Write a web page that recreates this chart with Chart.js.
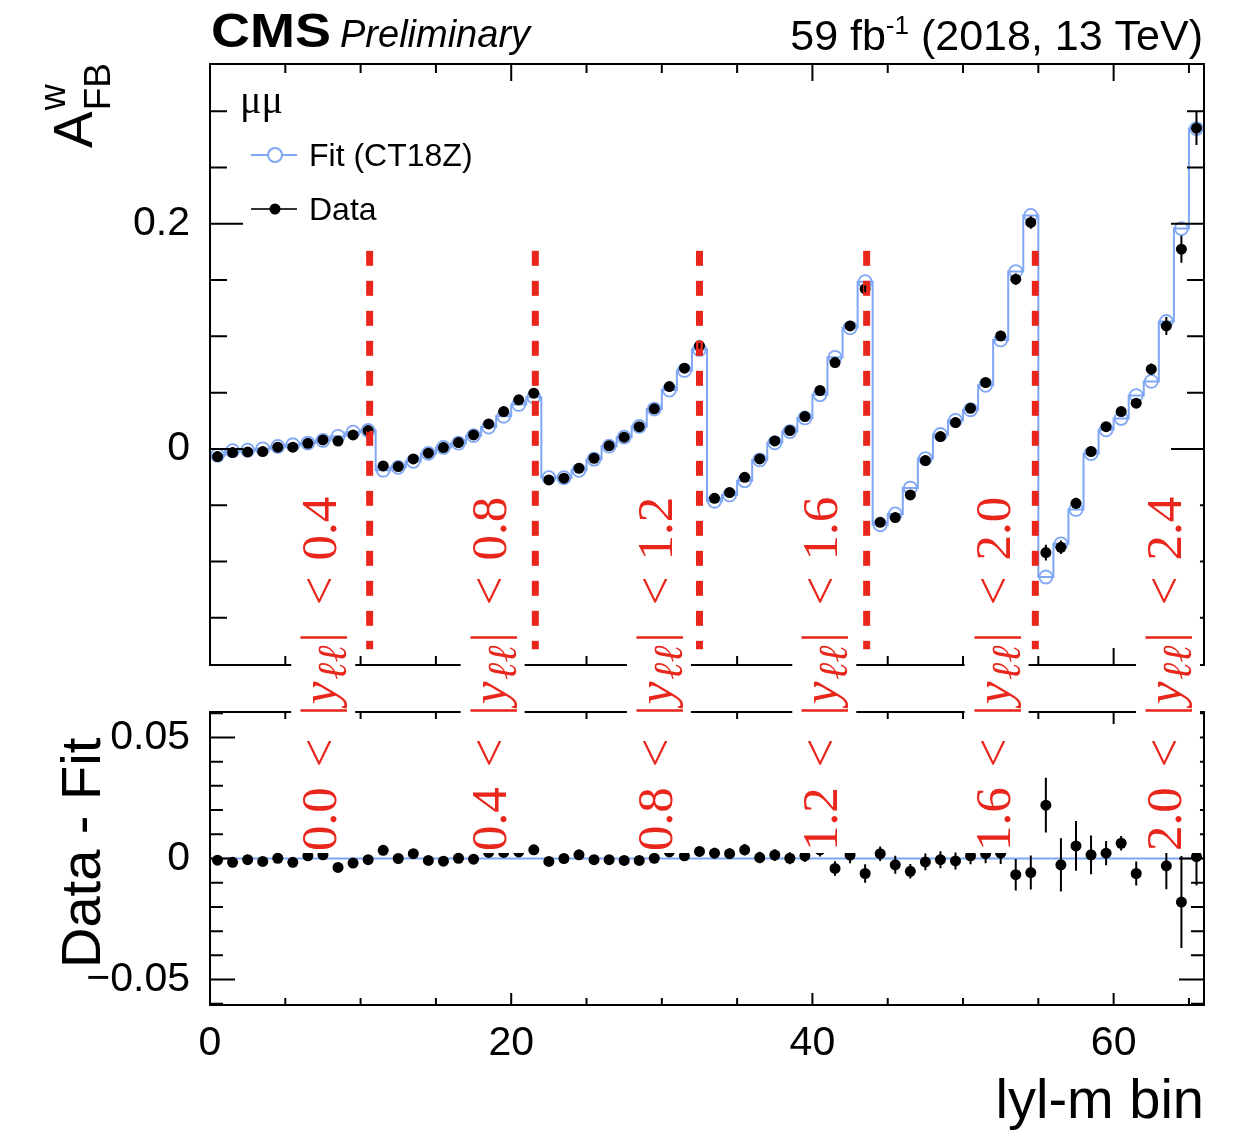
<!DOCTYPE html>
<html>
<head>
<meta charset="utf-8">
<title>A_FB^w in |y|-m bins</title>
<script src="https://cdn.jsdelivr.net/npm/chart.js@4.4.1/dist/chart.umd.min.js"></script>
<style>
  html, body { margin: 0; padding: 0; background: #fff; }
  #wrap { position: relative; width: 1255px; height: 1132px; }
  #wrap canvas { position: absolute; left: 0; top: 0; }
</style>
</head>
<body>
<div id="wrap">
  <canvas id="mainChart" width="1255" height="1132"></canvas>
  <canvas id="ratioChart" width="1255" height="1132"></canvas>
</div>
<script>
// Weighted forward-backward asymmetry per |y|-mass bin, dimuon channel, 2018

// |y_ll| slice edges, 11 mass bins per slice
const rapidityEdges = ['0.0', '0.4', '0.8', '1.2', '1.6', '2.0', '2.4'];

const dataValues = [
  -0.0068, -0.0033, -0.0027, -0.0024, 0.0015, 0.0015, 0.0050, 0.0080, 0.0070, 0.0124, 0.0163,
  -0.0151, -0.0157, -0.0089, -0.0038, 0.0012, 0.0056, 0.0124, 0.0222, 0.0332, 0.0436, 0.0495,
  -0.0276, -0.0260, -0.0172, -0.0083, 0.0027, 0.0104, 0.0198, 0.0356, 0.0554, 0.0717, 0.0916,
  -0.0439, -0.0388, -0.0252, -0.0089, 0.0071, 0.0163, 0.0287, 0.0519, 0.0767, 0.1093, 0.1422,
  -0.0652, -0.0610, -0.0409, -0.0104, 0.0110, 0.0234, 0.0361, 0.0590, 0.1004, 0.1508, 0.2012,
  -0.0921, -0.0874, -0.0483, -0.0024, 0.0198, 0.0332, 0.0406, 0.0708, 0.1093, 0.1775, 0.2850
];

const dataErrors = [
  0.0015, 0.0015, 0.0015, 0.0015, 0.0015, 0.0015, 0.0015, 0.0015, 0.0015, 0.0015, 0.0015,
  0.0020, 0.0020, 0.0020, 0.0020, 0.0020, 0.0020, 0.0020, 0.0020, 0.0020, 0.0020, 0.0020,
  0.0025, 0.0025, 0.0025, 0.0025, 0.0025, 0.0025, 0.0025, 0.0025, 0.0025, 0.0025, 0.0025,
  0.0030, 0.0030, 0.0030, 0.0030, 0.0030, 0.0030, 0.0030, 0.0030, 0.0030, 0.0030, 0.0030,
  0.0040, 0.0040, 0.0040, 0.0040, 0.0040, 0.0040, 0.0040, 0.0040, 0.0045, 0.0050, 0.0055,
  0.0070, 0.0060, 0.0050, 0.0040, 0.0030, 0.0030, 0.0040, 0.0050, 0.0080, 0.0120, 0.0150
];

const fitValues = [
  -0.0057, -0.0016, -0.0011, 0.0001, 0.0022, 0.0037, 0.0052, 0.0075, 0.0112, 0.0149, 0.0164,
  -0.0189, -0.0164, -0.0110, -0.0040, 0.0013, 0.0051, 0.0118, 0.0194, 0.0290, 0.0395, 0.0460,
  -0.0255, -0.0256, -0.0190, -0.0091, 0.0024, 0.0104, 0.0200, 0.0354, 0.0523, 0.0697, 0.0884,
  -0.0465, -0.0409, -0.0282, -0.0098, 0.0054, 0.0154, 0.0275, 0.0482, 0.0814, 0.1076, 0.1486,
  -0.0674, -0.0578, -0.0348, -0.0086, 0.0128, 0.0254, 0.0348, 0.0565, 0.0968, 0.1576, 0.2075,
  -0.1138, -0.0843, -0.0538, -0.0042, 0.0170, 0.0271, 0.0474, 0.0600, 0.1132, 0.1958, 0.2846
];

const residualValues = [
  -0.0007, -0.0016, -0.0005, -0.0012, 0.0001, -0.0016, 0.0011, 0.0015, -0.0037, -0.0019, -0.0005,
  0.0034, 0.0000, 0.0020, -0.0008, -0.0011, 0.0001, -0.0003, 0.0025, 0.0025, 0.0027, 0.0036,
  -0.0012, 0.0000, 0.0015, -0.0005, -0.0005, -0.0008, -0.0008, 0.0001, 0.0027, 0.0011, 0.0029,
  0.0022, 0.0020, 0.0036, 0.0004, 0.0014, 0.0001, 0.0011, 0.0036, -0.0041, 0.0014, -0.0062,
  0.0020, -0.0026, -0.0053, -0.0014, -0.0005, -0.0010, 0.0011, 0.0020, 0.0022, -0.0067, -0.0058,
  0.0220, -0.0026, 0.0052, 0.0015, 0.0022, 0.0063, -0.0062, 0.0105, -0.0030, -0.0180, 0.0008
];

const residualErrors = [
  0.0010, 0.0010, 0.0010, 0.0010, 0.0010, 0.0010, 0.0010, 0.0010, 0.0010, 0.0010, 0.0010,
  0.0015, 0.0015, 0.0015, 0.0015, 0.0015, 0.0015, 0.0015, 0.0015, 0.0015, 0.0015, 0.0020,
  0.0018, 0.0018, 0.0018, 0.0018, 0.0018, 0.0018, 0.0018, 0.0018, 0.0018, 0.0018, 0.0020,
  0.0022, 0.0022, 0.0024, 0.0024, 0.0024, 0.0025, 0.0025, 0.0028, 0.0030, 0.0034, 0.0038,
  0.0030, 0.0037, 0.0030, 0.0035, 0.0035, 0.0035, 0.0035, 0.0040, 0.0045, 0.0065, 0.0070,
  0.0113, 0.0110, 0.0103, 0.0080, 0.0050, 0.0030, 0.0050, 0.0060, 0.0097, 0.0190, 0.0120
];

const xTicks = [0, 20, 40, 60];
const mainYTicks = [0, 0.2];
const ratioYTicks = [-0.05, 0, 0.05];

// slice separators (bin units) and their vertical extent
const sliceLines = [10.6, 21.6, 32.5, 43.6, 54.8];
const sliceLineRange = [0.176, -0.178];
// baseline of each rotated slice caption (bin units)
const sliceLabelBins = [8.38, 19.63, 30.67, 41.65, 53.09, 64.47];

const SANS = "'Liberation Sans', Arial, Helvetica, sans-serif";
const SERIF = "'Liberation Serif', 'Times New Roman', 'DejaVu Serif', serif";
const FIT_BLUE = '#7fa7f4';
const RED = '#e8261c';

const nBins = dataValues.length;
const binCenters = dataValues.map((_, i) => i + 0.5);

function points(xs, ys) {
  return xs.map((x, i) => ({ x, y: ys[i] }));
}

// fit as a histogram outline: level of bin i from its low edge to the next
const fitSteps = fitValues.map((v, i) => ({ x: i, y: v }));
fitSteps.push({ x: nBins, y: fitValues[nBins - 1] });

// walk minor/major tick positions between min and max
function forEachTick(min, max, step, majorStep, fn) {
  const k0 = Math.ceil(min / step - 1e-9);
  const k1 = Math.floor(max / step + 1e-9);
  for (let k = k0; k <= k1; k++) {
    const v = k * step;
    const r = v / majorStep;
    fn(v, Math.abs(r - Math.round(r)) < 1e-6);
  }
}

// ROOT-style frame with inward ticks on all four sides
function drawFrame(chart, t) {
  const { ctx, chartArea: a } = chart;
  const x = chart.scales.x;
  const y = chart.scales.y;
  ctx.save();
  ctx.strokeStyle = '#000';
  ctx.lineWidth = 2;
  ctx.beginPath();
  forEachTick(x.min, x.max, 5, 20, (v, major) => {
    const px = x.getPixelForValue(v);
    const len = major ? t.xMajor : t.xMinor;
    ctx.moveTo(px, a.bottom); ctx.lineTo(px, a.bottom - len);
    ctx.moveTo(px, a.top); ctx.lineTo(px, a.top + len);
  });
  forEachTick(y.min, y.max, t.yStep, t.yMajorStep, (v, major) => {
    const py = y.getPixelForValue(v);
    const len = major ? t.yMajor : t.yMinor;
    ctx.moveTo(a.left, py); ctx.lineTo(a.left + len, py);
    ctx.moveTo(a.right, py); ctx.lineTo(a.right - len, py);
  });
  ctx.stroke();
  ctx.strokeRect(a.left, a.top, a.right - a.left, a.bottom - a.top);
  ctx.restore();
}

function drawErrorBars(chart, values, errors) {
  const { ctx, chartArea: a } = chart;
  const x = chart.scales.x;
  const y = chart.scales.y;
  ctx.save();
  ctx.beginPath();
  ctx.rect(a.left, a.top, a.right - a.left, a.bottom - a.top);
  ctx.clip();
  ctx.strokeStyle = '#000';
  ctx.lineWidth = 2;
  ctx.beginPath();
  values.forEach((v, i) => {
    const px = x.getPixelForValue(binCenters[i]);
    ctx.moveTo(px, y.getPixelForValue(v - errors[i]));
    ctx.lineTo(px, y.getPixelForValue(v + errors[i]));
  });
  ctx.stroke();
  ctx.restore();
}

// header, legend and y title of the upper pad
function drawMainDecor(ctx) {
  ctx.save();
  ctx.fillStyle = '#000';
  ctx.textBaseline = 'alphabetic';

  // CMS Preliminary
  ctx.font = `bold 48px ${SANS}`;
  const cmsW = ctx.measureText('CMS').width;
  ctx.save();
  ctx.translate(211, 47);
  ctx.scale(120 / cmsW, 1);
  ctx.fillText('CMS', 0, 0);
  ctx.restore();
  ctx.font = `italic 38px ${SANS}`;
  ctx.fillText('Preliminary', 340, 47);

  // luminosity label, right aligned with the frame
  const big = `43px ${SANS}`;
  const small = `26px ${SANS}`;
  ctx.font = big;
  const w1 = ctx.measureText('59 fb').width;
  const w3 = ctx.measureText(' (2018, 13 TeV)').width;
  ctx.font = small;
  const w2 = ctx.measureText('-1').width;
  const lx = 1203 - (w1 + w2 + w3);
  ctx.font = big;
  ctx.fillText('59 fb', lx, 50);
  ctx.font = small;
  ctx.fillText('-1', lx + w1, 34);
  ctx.font = big;
  ctx.fillText(' (2018, 13 TeV)', lx + w1 + w2, 50);

  // legend
  ctx.font = `40px ${SERIF}`;
  ctx.fillText('\u03bc\u03bc', 240, 113);
  ctx.font = `32px ${SANS}`;
  ctx.fillText('Fit (CT18Z)', 309, 166);
  ctx.fillText('Data', 309, 220);

  ctx.lineWidth = 2;
  ctx.strokeStyle = FIT_BLUE;
  ctx.beginPath();
  ctx.moveTo(251, 155); ctx.lineTo(297, 155);
  ctx.stroke();
  ctx.fillStyle = '#fff';
  ctx.beginPath();
  ctx.arc(275, 155, 7, 0, Math.PI * 2);
  ctx.fill();
  ctx.stroke();

  ctx.strokeStyle = '#333';
  ctx.beginPath();
  ctx.moveTo(251, 209); ctx.lineTo(297, 209);
  ctx.stroke();
  ctx.fillStyle = '#000';
  ctx.beginPath();
  ctx.arc(275, 209, 5.5, 0, Math.PI * 2);
  ctx.fill();

  // y title A_FB^w, rotated
  ctx.save();
  ctx.translate(92, 148);
  ctx.rotate(-Math.PI / 2);
  ctx.font = `55px ${SANS}`;
  ctx.fillText('A', 0, 0);
  const aw = ctx.measureText('A').width;
  ctx.font = `36px ${SANS}`;
  ctx.fillText('w', aw + 1, -27);
  ctx.font = `37px ${SANS}`;
  ctx.fillText('FB', aw + 1, 18);
  ctx.restore();

  ctx.restore();
}

// rotated |y_ll| captions; each sits on a white patch over both pads
function drawSliceLabels(chart) {
  const { ctx } = chart;
  const x = chart.scales.x;
  const up = `51px ${SERIF}`;
  const it = `italic 51px ${SERIF}`;
  const sub = `italic 41px ${SERIF}`;
  const startY = 851;

  sliceLabelBins.forEach((bin, i) => {
    const runs = [
      { text: rapidityEdges[i], font: up, gap: 0 },
      { text: '<', font: up, gap: 20 },
      { text: '|', font: up, gap: 23 },
      { text: 'y', font: it, gap: 1 },
      { text: '\u2113\u2113', font: sub, gap: 2, dy: 10 },
      { text: '|', font: up, gap: 3 },
      { text: '<', font: up, gap: 27 },
      { text: rapidityEdges[i + 1], font: up, gap: 16 }
    ];
    let total = 0;
    runs.forEach(r => {
      ctx.font = r.font;
      r.pos = total + r.gap;
      total = r.pos + ctx.measureText(r.text).width;
    });

    const bx = x.getPixelForValue(bin);
    ctx.save();
    ctx.fillStyle = '#fff';
    ctx.fillRect(bx - 45, startY - total - 5, 64, total + 7);
    ctx.translate(bx, startY);
    ctx.rotate(-Math.PI / 2);
    ctx.fillStyle = RED;
    ctx.textBaseline = 'alphabetic';
    runs.forEach(r => {
      ctx.font = r.font;
      ctx.fillText(r.text, r.pos, r.dy || 0);
    });
    ctx.restore();
  });
}

function drawRatioTitles(ctx) {
  ctx.save();
  ctx.fillStyle = '#000';
  ctx.font = `56px ${SANS}`;
  ctx.textAlign = 'right';
  ctx.fillText('lyl-m bin', 1204, 1118);
  ctx.textAlign = 'left';
  ctx.translate(100, 968);
  ctx.rotate(-Math.PI / 2);
  ctx.fillText('Data - Fit', 0, 0);
  ctx.restore();
}

const tickFont = { family: SANS, size: 41 };

// upper pad: data, fit and slice separators
const mainChart = new Chart(document.getElementById('mainChart'), {
  type: 'scatter',
  data: {
    datasets: [
      ...sliceLines.map(b => ({
        type: 'line',
        data: sliceLineRange.map(v => ({ x: b, y: v })),
        borderColor: RED,
        borderWidth: 7,
        borderDash: [15, 15],
        pointRadius: 0,
        order: -1
      })),
      {
        label: 'Data',
        data: points(binCenters, dataValues),
        pointRadius: 5.5,
        pointBackgroundColor: '#000',
        pointBorderColor: '#000',
        pointBorderWidth: 0,
        order: 0
      },
      {
        label: 'Fit (CT18Z)',
        data: points(binCenters, fitValues),
        pointRadius: 6.5,
        pointBackgroundColor: 'rgba(0,0,0,0)',
        pointBorderColor: FIT_BLUE,
        pointBorderWidth: 1.8,
        order: 1
      },
      {
        type: 'line',
        data: fitSteps,
        stepped: 'before',
        borderColor: FIT_BLUE,
        borderWidth: 2,
        pointRadius: 0,
        fill: false,
        order: 2
      }
    ]
  },
  options: {
    responsive: false,
    animation: false,
    devicePixelRatio: 1,
    events: [],
    layout: { padding: { top: 64, right: 51, bottom: 467, left: 0 } },
    plugins: { legend: { display: false }, tooltip: { enabled: false } },
    scales: {
      x: { type: 'linear', min: 0, max: nBins, display: false },
      y: {
        type: 'linear',
        min: -0.192,
        max: 0.342,
        grid: { display: false },
        border: { display: false },
        afterBuildTicks: s => { s.ticks = mainYTicks.map(v => ({ value: v })); },
        afterFit: s => { s.width = 210; },
        ticks: {
          font: tickFont,
          color: '#000',
          padding: 12,
          callback: v => (v === 0 ? '0' : String(v))
        }
      }
    }
  },
  plugins: [{
    id: 'mainPad',
    afterDatasetsDraw(chart) {
      drawErrorBars(chart, dataValues, dataErrors);
    },
    afterDraw(chart) {
      drawFrame(chart, { xMajor: 17, xMinor: 9, yStep: 0.05, yMajorStep: 0.2, yMajor: 33, yMinor: 17 });
      drawMainDecor(chart.ctx);
    }
  }]
});

// lower pad: data minus fit
const ratioChart = new Chart(document.getElementById('ratioChart'), {
  type: 'scatter',
  data: {
    datasets: [
      {
        label: 'Data - Fit',
        data: points(binCenters, residualValues),
        pointRadius: 5.5,
        pointBackgroundColor: '#000',
        pointBorderWidth: 0,
        order: 0
      },
      {
        type: 'line',
        data: [{ x: 0, y: 0 }, { x: nBins, y: 0 }],
        borderColor: FIT_BLUE,
        borderWidth: 2,
        pointRadius: 0,
        order: 1
      }
    ]
  },
  options: {
    responsive: false,
    animation: false,
    devicePixelRatio: 1,
    events: [],
    layout: { padding: { top: 712, right: 51, bottom: 0, left: 0 } },
    plugins: { legend: { display: false }, tooltip: { enabled: false } },
    scales: {
      x: {
        type: 'linear',
        min: 0,
        max: nBins,
        grid: { display: false },
        border: { display: false },
        afterBuildTicks: s => { s.ticks = xTicks.map(v => ({ value: v })); },
        afterFit: s => { s.height = 127; },
        ticks: { font: tickFont, color: '#000', padding: 6, maxRotation: 0 }
      },
      y: {
        type: 'linear',
        min: -0.0605,
        max: 0.0605,
        grid: { display: false },
        border: { display: false },
        afterBuildTicks: s => { s.ticks = ratioYTicks.map(v => ({ value: v })); },
        afterFit: s => { s.width = 210; },
        ticks: {
          font: tickFont,
          color: '#000',
          padding: 12,
          callback: v => (v < 0 ? '\u2212' + Math.abs(v) : String(v))
        }
      }
    }
  },
  plugins: [{
    id: 'ratioPad',
    afterDatasetsDraw(chart) {
      drawErrorBars(chart, residualValues, residualErrors);
    },
    afterDraw(chart) {
      drawFrame(chart, { xMajor: 12, xMinor: 7, yStep: 0.01, yMajorStep: 0.05, yMajor: 25, yMinor: 13 });
      drawRatioTitles(chart.ctx);
      drawSliceLabels(chart);
    }
  }]
});
</script>
</body>
</html>
